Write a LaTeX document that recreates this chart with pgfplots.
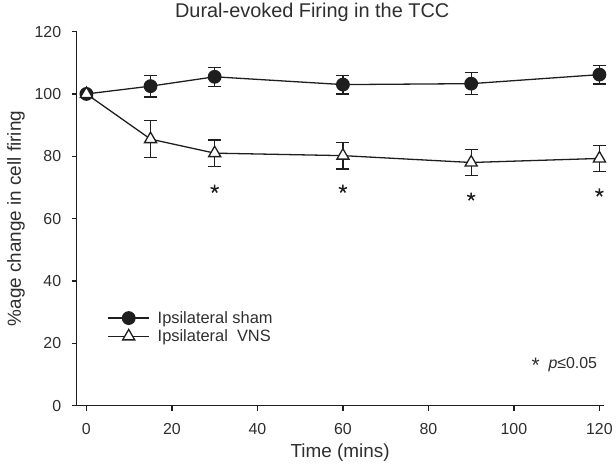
\documentclass[border=0pt]{standalone}
\usepackage{fontspec}
\setmainfont{Liberation Sans}
\usepackage{pgfplots}
\pgfplotsset{compat=1.18}
\definecolor{ink}{HTML}{1E1E1E}
\definecolor{txt}{HTML}{2E2E2E}

\begin{document}
\begin{tikzpicture}
% fixes the page to the reference frame (axis corner at the origin)
\path (-77bp,-58bp) rectangle (539bp,404bp);
\begin{axis}[
    scale only axis,
    width=530bp, height=376bp,
    xmin=-2.3, xmax=121,
    ymin=0, ymax=120,
    xtick={0,20,...,120},
    ytick={0,20,...,120},
    axis x line*=bottom,
    axis y line*=left,
    axis line style={ink, line width=1.3bp, -},
    tick align=outside,
    major tick length=5bp,
    tick style={ink, line width=1.3bp},
    ticklabel style={font=\fontsize{16bp}{18bp}\selectfont, text=txt},
    xticklabel style={yshift=-9bp},
    yticklabel style={xshift=-7bp},
    /pgf/number format/assume math mode=true,
    xlabel={Time (mins)},
    ylabel={\%age change in cell firing},
    label style={font=\fontsize{19bp}{21bp}\selectfont, text=txt},
    xlabel style={yshift=-3bp},
    ylabel style={yshift=3bp},
    title={Dural-evoked Firing in the TCC},
    title style={font=\fontsize{20bp}{22bp}\selectfont, text=txt,
        at={(0.447,1)}, anchor=base, yshift=8bp},
    legend style={draw=none, fill=none, at={(0.053,0.263)}, anchor=north west,
        font=\fontsize{16.5bp}{20bp}\selectfont, text=txt,
        row sep=1bp},
    legend cell align=left,
    legend image code/.code={
        \draw[mark repeat=2,mark phase=2,#1]
        plot coordinates {(0bp,0bp) (20.5bp,0bp) (41bp,0bp)};},
    clip=false,
]

\addplot[ink, line width=1.3bp, mark=*, mark size=6.3bp,
    error bars/.cd, y dir=both, y explicit,
    error bar style={line width=1.3bp},
    error mark options={rotate=90, mark size=6.5bp, line width=1.3bp}]
    table[x=t, y=v, y error=e] {
t   v     e
0   100   0
15  102.5 3.5
30  105.5 3.0
60  103.0 3.0
90  103.3 3.5
120 106.2 3.0
};
\addlegendentry{\hspace{6bp}Ipsilateral sham}

\addplot[ink, line width=1.3bp, mark=triangle*, mark size=7bp,
    mark options={fill=white},
    error bars/.cd, y dir=both, y explicit,
    error bar style={line width=1.3bp},
    error mark options={rotate=90, mark size=6.5bp, line width=1.3bp}]
    table[x=t, y=v, y error=e] {
t   v     e
0   100   0
15  85.5  5.9
30  81.0  4.2
60  80.2  4.3
90  78.0  4.2
120 79.3  4.2
};
\addlegendentry{\hspace{6bp}Ipsilateral\ \ VNS}

% significance marks
\addplot[only marks, mark=star, mark size=4.3bp, ink, line width=1.5bp, forget plot]
    coordinates {(30,69.5) (60,69.5) (90,67) (120,68.3)};

\node[anchor=west, font=\fontsize{16bp}{18bp}\selectfont, text=txt]
    at (axis cs:103.3,13)
    {\raisebox{-0.55ex}{\fontsize{21bp}{21bp}\selectfont *}\ \ \textit{p}≤0.05};
\end{axis}
\end{tikzpicture}
\end{document}
